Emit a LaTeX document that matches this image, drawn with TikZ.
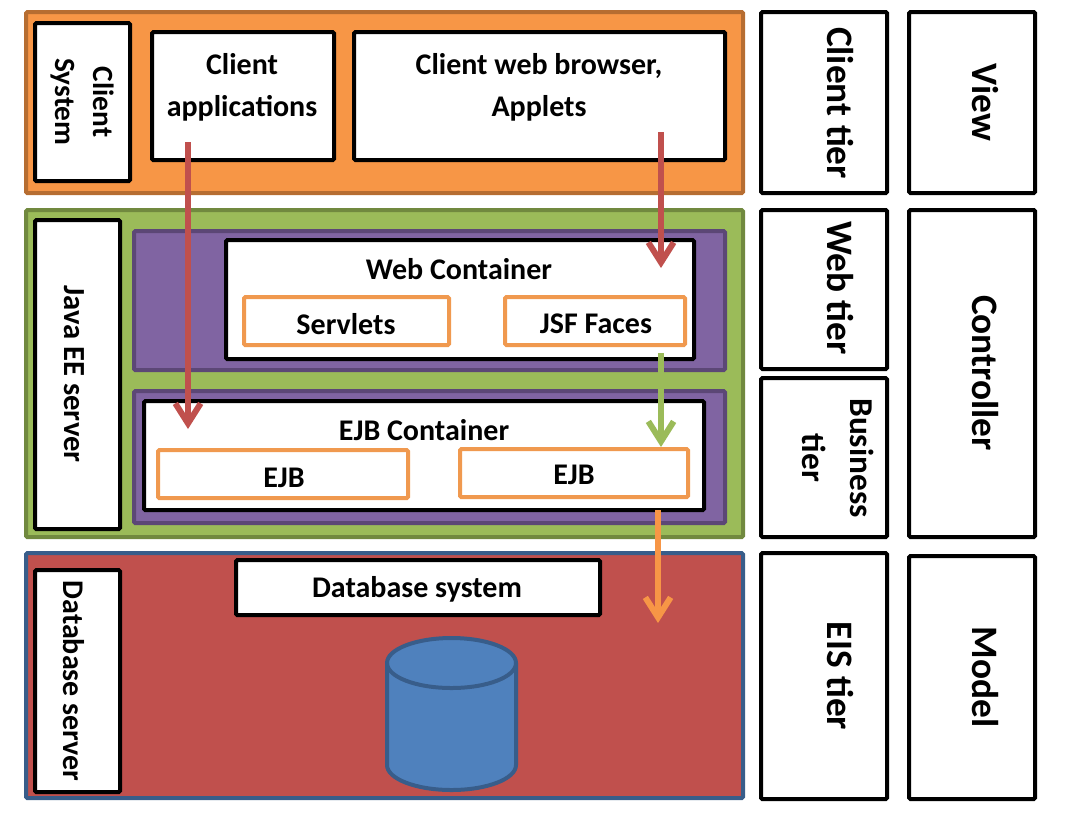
\documentclass[tikz,border=0pt]{standalone}
\usepackage{fontspec}
\setmainfont{Carlito}
\usetikzlibrary{arrows.meta}
\definecolor{cOrange}{HTML}{F79646}
\definecolor{cOrangeB}{HTML}{B66D31}
\definecolor{cGreen}{HTML}{9BBB59}
\definecolor{cGreenB}{HTML}{71893F}
\definecolor{cPurple}{HTML}{8064A2}
\definecolor{cPurpleB}{HTML}{5C4776}
\definecolor{cRed}{HTML}{C0504D}
\definecolor{cBlue}{HTML}{4F81BD}
\definecolor{cBlueB}{HTML}{385D8A}
\definecolor{cInner}{HTML}{F0994F}
\newcommand{\bx}[6]{%
  \pgfmathsetmacro{\bw}{(#4-#2)*0.75}\pgfmathsetmacro{\bh}{(#5-#3)*0.75}%
  \node[#6,minimum width=\bw pt,minimum height=\bh pt] (#1) at ({(#2+#4)/2},{(#3+#5)/2}) {};}
\tikzset{
  x=0.75pt,y=-0.75pt,
  panel/.style={draw,line width=3pt,rounded corners=1pt,outer sep=0pt,inner sep=0pt},
  whitebox/.style={panel,draw=black,fill=white},
  innerbox/.style={panel,draw=cInner,fill=white},
  orangepanel/.style={panel,draw=cOrangeB,fill=cOrange},
  greenpanel/.style={panel,draw=cGreenB,fill=cGreen},
  purplepanel/.style={panel,draw=cPurpleB,fill=cPurple},
  redpanel/.style={panel,draw=cBlueB,fill=cRed},
  txt/.style={font=\fontsize{22.5pt}{31.5pt}\selectfont\bfseries,inner sep=0pt,align=center},
  vtxt/.style={txt,rotate=-90},
  big/.style={txt,rotate=-90,font=\fontsize{28pt}{36pt}\selectfont\bfseries},
  flow/.style={line width=4.5pt,-{Straight Barb[length=15pt,width=19pt,line width=4.5pt]}},
}
\begin{document}
\begin{tikzpicture}
\useasboundingbox (0,0) rectangle (1066,826);
% tier panels
\bx{clientpanel}{26}{12}{743}{193}{orangepanel}
\bx{javapanel}{26}{210}{743}{537}{greenpanel}
\bx{dbpanel}{26}{553}{743}{798}{redpanel}
\bx{webpurple}{134}{231}{725}{370}{purplepanel}
\bx{ejbpurple}{134}{391}{725}{523}{purplepanel}
% left labels
\bx{clientsys}{35}{23}{130}{181}{whitebox}
\bx{javasrv}{35}{220}{120}{529}{whitebox}
\bx{dbsrv}{35}{570}{120}{792}{whitebox}
\node[vtxt,font=\fontsize{22pt}{28.5pt}\selectfont\bfseries] (tclientsys) at (82,102) {Client\\System};
\node[vtxt,font=\fontsize{23pt}{28pt}\selectfont\bfseries] (tjavasrv) at (74,374) {Java EE server};
\node[vtxt] (tdbsrv) at (74,681) {Database server};
% client
\bx{clientapps}{152}{32}{334}{160}{whitebox}
\bx{browser}{354}{32}{725}{160}{whitebox}
\node[txt] (tclientapps) at (242,87) {Client\\applications};
\node[txt] (tbrowser) at (539,87) {Client web browser,\\Applets};
% web
\bx{webcont}{226}{240}{694}{359}{whitebox}
\node[txt] (twebcont) at (459,269) {Web Container};
\bx{servlets}{244}{297}{449}{345}{innerbox}
\node[txt] (tservlets) at (346,324) {Servlets};
\bx{jsf}{505}{297}{685}{345}{innerbox}
\node[txt] (tjsf) at (596,324) {JSF Faces};
% ejb
\bx{ejbcont}{144}{401}{704}{510}{whitebox}
\node[txt] (tejbcont) at (424,430) {EJB Container};
\bx{ejba}{158}{450}{408}{498}{innerbox}
\node[txt] (tejba) at (284,478) {EJB};
\bx{ejbb}{460}{449}{688}{497}{innerbox}
\node[txt] (tejbb) at (574,475) {EJB};
% database
\bx{dbsys}{236}{560}{600}{615}{whitebox}
\node[txt] (tdbsys) at (417,589) {Database system};
\draw[fill=cBlue,draw=cBlueB,line width=3pt]
  (387,663) -- (387,765) arc[start angle=180,end angle=0,x radius=64.5,y radius=25]
  -- (516,663) arc[start angle=0,end angle=-180,x radius=64.5,y radius=25] -- cycle;
\draw[draw=cBlueB,line width=3pt]
  (387,663) arc[start angle=180,end angle=0,x radius=64.5,y radius=25];
% right columns
\bx{clienttier}{761}{12}{887}{193}{whitebox}
\bx{viewbox}{909}{12}{1035}{193}{whitebox}
\bx{webtier}{761}{210}{887}{369}{whitebox}
\bx{bustier}{761}{378}{887}{537}{whitebox}
\bx{controllerbox}{909}{210}{1035}{537}{whitebox}
\bx{eistier}{761}{553}{887}{799}{whitebox}
\bx{modelbox}{909}{556}{1035}{799}{whitebox}
\node[big] (tclienttier) at (840,103) {Client tier};
\node[big] (tview) at (985,102) {View};
\node[big] (twebtier) at (840,288) {Web tier};
\node[vtxt,font=\fontsize{25pt}{36pt}\selectfont\bfseries] (tbustier) at (838,458) {Business\\tier};
\node[big] (tcontroller) at (985,373) {Controller};
\node[big] (teistier) at (840,676) {EIS tier};
\node[big] (tmodel) at (985,677) {Model};
% arrows
\coordinate (a1s) at (188,142); \coordinate (a1e) at (188,429);
\coordinate (a2s) at (661,132); \coordinate (a2e) at (661,268);
\coordinate (a3s) at (661,353); \coordinate (a3e) at (661,447);
\coordinate (a4s) at (658,510); \coordinate (a4e) at (658,623);
\draw[flow,draw=cRed] (a1s) -- (a1e);
\draw[flow,draw=cRed] (a2s) -- (a2e);
\draw[flow,draw=cGreen] (a3s) -- (a3e);
\draw[flow,draw=cOrange] (a4s) -- (a4e);
\end{tikzpicture}
\end{document}
